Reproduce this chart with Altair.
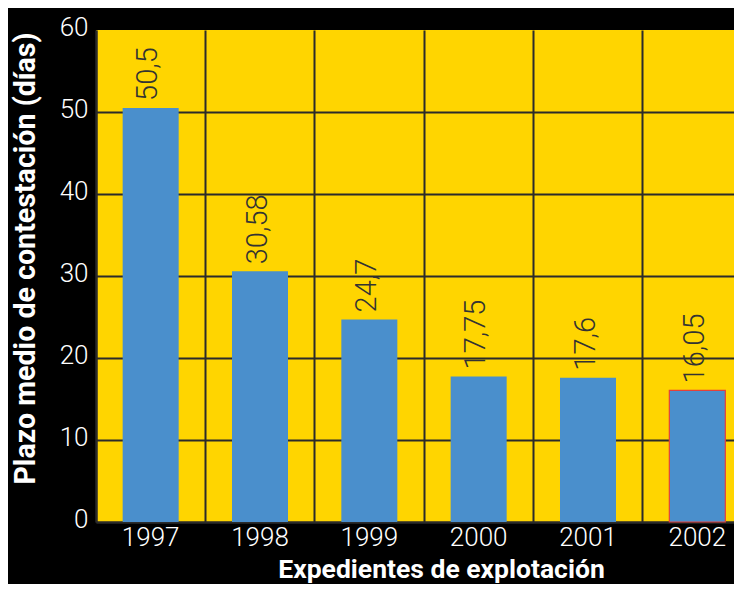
import altair as alt
import pandas as pd

years = ["1997", "1998", "1999", "2000", "2001", "2002"]
values = [50.5, 30.58, 24.7, 17.75, 17.6, 16.05]
labels = ["50,5", "30,58", "24,7", "17,75", "17,6", "16,05"]
y_ticks = [0, 10, 20, 30, 40, 50, 60]

df = pd.DataFrame({"year": years, "value": values, "label": labels})

GRID = "#2b2b2b"
YELLOW = "#FFD500"
BLUE = "#4A8FCC"

x_enc = alt.X(
    "year:O",
    title="Expedientes de explotación",
    scale=alt.Scale(paddingInner=0, paddingOuter=0, range=[0, 656]),
    axis=alt.Axis(
        labelAngle=0, ticks=False, bandPosition=0,
        grid=True, gridColor=GRID, gridWidth=2,
        domainColor=GRID, domainWidth=2,
        labelFont="Roboto", labelFontWeight=300, labelFontSize=26, labelColor="white",
        labelPadding=23, labelBaseline="alphabetic",
        titleFont="Roboto", titleFontWeight="bold", titleFontSize=26.5, titleColor="white",
        titleX=345, titleY=55, titleBaseline="alphabetic", titleAlign="center",
    ),
)
y_enc = alt.Y(
    "value:Q",
    title="Plazo medio de contestación (días)",
    scale=alt.Scale(domain=[0, 60], nice=False),
    axis=alt.Axis(
        values=y_ticks, ticks=False, format="d",
        grid=True, gridColor=GRID, gridWidth=2,
        gridOpacity={"condition": {"test": "datum.value === 60", "value": 0}, "value": 1},
        domainColor=GRID, domainWidth=2,
        labelFont="Roboto", labelFontWeight=300, labelFontSize=26, labelColor="white",
        labelPadding=8, labelBaseline="middle", labelOffset=-3,
        titleFont="Roboto", titleFontWeight="bold", titleFontSize=28.6, titleColor="white",
        titleX=-62, titleY=228, titleBaseline="alphabetic", titleAlign="center", titleAngle=270,
    ),
)

bars = alt.Chart(df).mark_bar(size=56, color=BLUE, strokeWidth=1.2).encode(
    x=x_enc,
    y=y_enc,
    stroke=alt.condition(alt.datum.year == "2002", alt.value("#E5413A"), alt.value("transparent")),
)

texts = alt.Chart(df).mark_text(
    angle=270, align="left", baseline="alphabetic", dx=7, dy=6.5,
    font="Roboto", fontWeight=300, fontSize=29, color="#333333",
).encode(x="year:O", y="value:Q", text="label:N")

chart = alt.layer(bars, texts).properties(
    width=638, height=492,
    autosize=alt.AutoSizeParams(type="none"),
    padding={"left": 88, "top": 22, "right": 0, "bottom": 62},
    background="black",
).configure_view(fill=YELLOW, strokeWidth=0)

chart.save("out.html", embed_options={"renderer": "svg", "actions": False})
